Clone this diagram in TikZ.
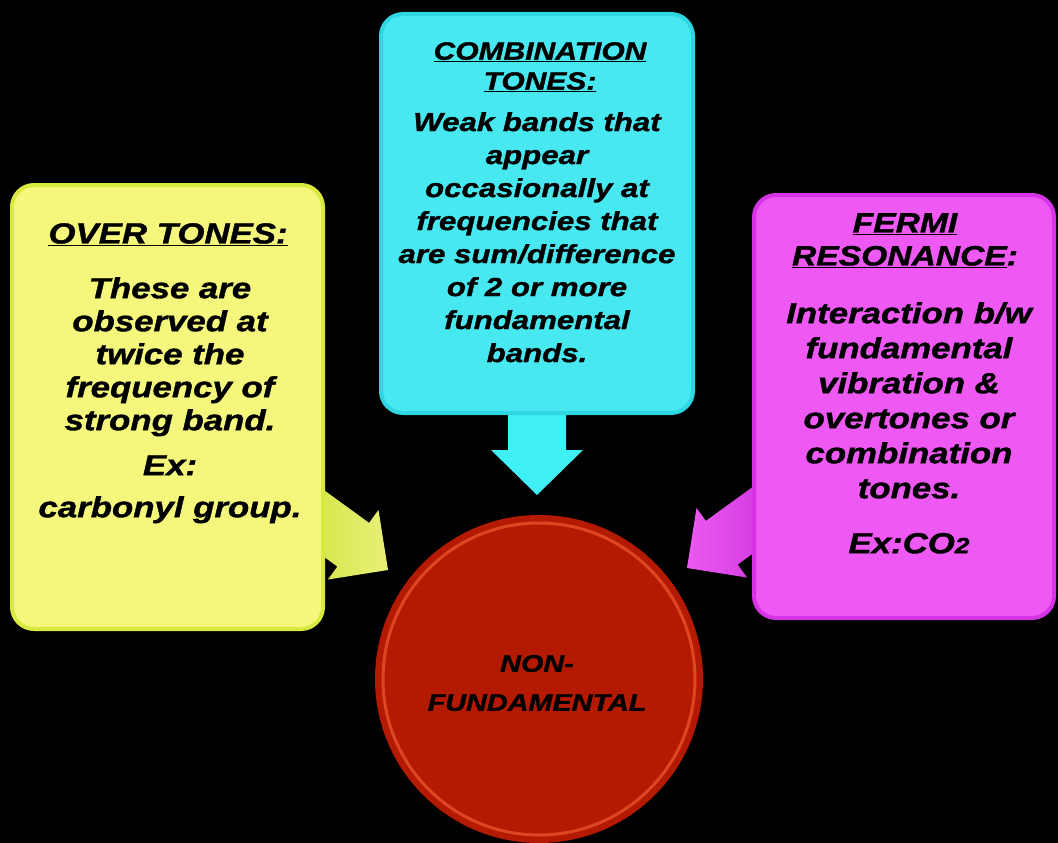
\documentclass[tikz,border=0pt]{standalone}
\usepackage{fontspec}
\setmainfont{Liberation Sans}
\newfontfamily\boxfont[FakeStretch=1.2,FakeBold=1.3]{Liberation Sans}
\definecolor{yfill}{HTML}{F4F77C}
\definecolor{ybord}{HTML}{D8EA40}
\definecolor{cfill}{HTML}{48E8F0}
\definecolor{cbord}{HTML}{2ED6E2}
\definecolor{mfill}{HTML}{EE58F3}
\definecolor{mbord}{HTML}{D632E6}
\definecolor{rfill}{HTML}{B41A02}
\definecolor{rring}{HTML}{E4532C}
\definecolor{carrow}{HTML}{3FEFF3}
\begin{document}
\begin{tikzpicture}[x=1pt,y=-1pt,
  bx/.style={rounded corners=22pt, line width=4pt, inner sep=0pt},
  hd/.style={align=center, inner sep=0pt, text=black},
  bd/.style={align=center, inner sep=0pt, text=black}]
\useasboundingbox[fill=black] (0,0) rectangle (1058,843);

% block arrows (behind boxes)
\begin{scope}[shift={(537,495)}, rotate=-90]
  \fill[carrow] (0,0) -- (-45,46) -- (-45,29) -- (-100,29) -- (-100,-29) -- (-45,-29) -- (-45,-46) -- cycle;
\end{scope}
\begin{scope}[shift={(388,570)}, rotate=-36]
  \shade[left color={rgb,255:red,206;green,228;blue,60}, right color={rgb,255:red,232;green,240;blue,120}]
   (0,0) -- (-43,43) -- (-43,27) -- (-100,27) -- (-100,-27) -- (-43,-27) -- (-43,-43) -- cycle;
\end{scope}
\begin{scope}[shift={(687,568)}, rotate=-144]
  \shade[left color={rgb,255:red,236;green,90;blue,240}, right color={rgb,255:red,204;green,50;blue,222}]
   (0,0) -- (-43,43) -- (-43,27) -- (-100,27) -- (-100,-27) -- (-43,-27) -- (-43,-43) -- cycle;
\end{scope}

% boxes
\node[bx, draw=ybord, fill=yfill, minimum width=311pt, minimum height=444pt] (over) at (167.5,407) {};
\node[bx, draw=cbord, fill=cfill, minimum width=312pt, minimum height=399pt] (comb) at (537,213.5) {};
\node[bx, draw=mbord, fill=mfill, minimum width=300pt, minimum height=423pt] (fermi) at (904,406.5) {};

% circle
\node[circle, fill=rfill, minimum size=328pt, inner sep=0pt] (nf) at (539,679) {};
\draw[rring, line width=3pt, opacity=0.8] (nf.center) circle[radius=156pt];

% texts
\node[hd, anchor=north, font=\boxfont\bfseries\itshape\fontsize{29}{33}\selectfont] (overhd) at (168,223) {\underline{OVER TONES:}};
\node[bd, anchor=north, font=\boxfont\bfseries\itshape\fontsize{29}{33}\selectfont] (overbd) at (170,277)
  {These are\\observed at\\twice the\\frequency of\\strong band.\\[12pt]Ex:\\[9pt]carbonyl group.};

\node[hd, anchor=north, font=\boxfont\bfseries\itshape\fontsize{25}{30}\selectfont] (combhd) at (540,42) {\underline{COMBINATION}\\\underline{TONES:}};
\node[bd, anchor=north, font=\boxfont\bfseries\itshape\fontsize{26}{33}\selectfont] (combbd) at (537,112)
  {Weak bands that\\appear\\occasionally at\\frequencies that\\are sum/difference\\of 2 or more\\fundamental\\bands.};

\node[hd, anchor=north, font=\boxfont\bfseries\itshape\fontsize{28}{33}\selectfont] (fermihd) at (905,213) {\underline{FERMI}\\\underline{RESONANCE}:};
\node[bd, anchor=north, font=\boxfont\bfseries\itshape\fontsize{29}{35}\selectfont] (fermibd) at (909,302)
  {Interaction b/w\\fundamental\\vibration \&\\overtones or\\combination\\tones.\\[20pt]Ex:CO{\fontsize{22}{22}\selectfont 2}};

\node[bd, font=\boxfont\bfseries\itshape\fontsize{24}{39}\selectfont] (nftxt) at (537,683) {NON-\\FUNDAMENTAL};
\end{tikzpicture}
\end{document}
